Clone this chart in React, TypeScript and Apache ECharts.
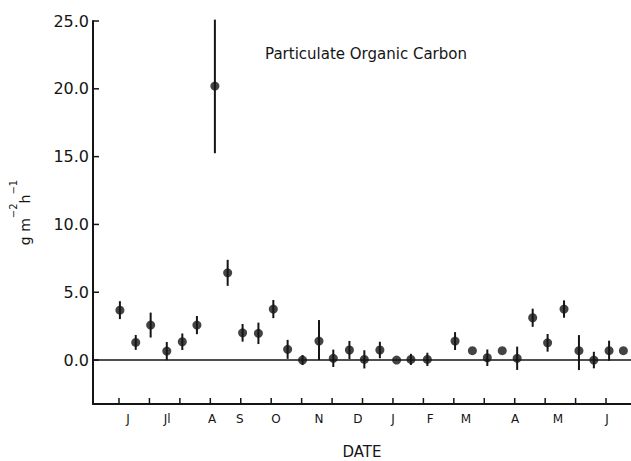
import React, { useEffect, useRef } from "react";
import * as echarts from "echarts";

// Sample positions (in tick units along the date axis)
const sampleX = [
  0.03, 0.55, 1.04, 1.57, 2.08, 2.56, 3.15, 3.57, 4.06, 4.58, 5.07, 5.54, 6.03, 6.57, 7.04, 7.57,
  8.06, 8.57, 9.12, 9.59, 10.13, 11.04, 11.61, 12.1, 12.59, 13.08, 13.59, 14.08, 14.62, 15.11,
  15.6, 16.1, 16.57,
];
// Particulate organic carbon flux (g m-2 h-1)
const pocValues = [
  3.68, 1.3, 2.58, 0.66, 1.35, 2.58, 20.2, 6.43, 2.01, 1.97, 3.76, 0.79, 0.0, 1.4, 0.13, 0.74,
  0.05, 0.74, 0.0, 0.05, 0.05, 1.4, 0.69, 0.17, 0.69, 0.13, 3.12, 1.27, 3.76, 0.69, 0.0, 0.69,
  0.69,
];
const errLow = [
  0.66, 0.55, 0.92, 0.67, 0.61, 0.67, 4.95, 0.96, 0.65, 0.79, 0.67, 0.7, 0.37, 1.4, 0.64, 0.67,
  0.67, 0.61, 0, 0.41, 0.49, 0.66, 0, 0.61, 0, 0.86, 0.67, 0.65, 0.64, 1.43, 0.61, 0.74, 0,
];
const errHigh = [
  0.66, 0.55, 0.92, 0.67, 0.61, 0.67, 4.9, 0.96, 0.65, 0.79, 0.67, 0.7, 0.37, 1.55, 0.64, 0.67,
  0.67, 0.61, 0, 0.41, 0.49, 0.66, 0, 0.61, 0, 0.86, 0.67, 0.65, 0.64, 1.15, 0.61, 0.74, 0,
];

const monthLabels = ["J", "Jl", "A", "S", "O", "N", "D", "J", "F", "M", "A", "M", "J"];
const monthPos = [0.3, 1.58, 3.06, 3.97, 5.16, 6.57, 7.85, 9.0, 10.22, 11.4, 13.01, 14.42, 16.03];
const xTicks = [0, 1, 2, 3, 4, 5, 6, 7, 8, 9, 10, 11, 12, 13, 14, 15, 16];
const yTicks = [0, 5, 10, 15, 20, 25];

const X_MIN = -0.854;
const X_MAX = 16.82;
const Y_MIN = -3.24;
const Y_MAX = 25;

const INK = "#151515";
const FONT = "DejaVu Sans";

export default function App() {
  const ref = useRef<HTMLDivElement>(null);

  useEffect(() => {
    if (!ref.current) return;
    document.body.style.margin = "0";
    const chart = echarts.init(ref.current, undefined, { renderer: "svg" });

    const pts = sampleX.map((x, i) => [x, pocValues[i]]);
    const bars = sampleX.map((x, i) => [x, pocValues[i], errLow[i], errHigh[i]]);
    const xTickData = xTicks.map((v) => [v, Y_MIN]);
    const yTickData = yTicks.map((v) => [X_MIN, v]);

    chart.setOption({
      animation: false,
      backgroundColor: "#ffffff",
      title: {
        text: "Particulate Organic Carbon",
        left: 361,
        top: 41,
        textAlign: "center",
        textStyle: { fontFamily: FONT, fontSize: 15, fontWeight: "normal", color: INK },
      },
      grid: { left: 93, right: 0, top: 21, bottom: 57, containLabel: false, outerBoundsMode: "none" },
      xAxis: {
        type: "value",
        min: X_MIN,
        max: X_MAX,
        name: "DATE",
        nameLocation: "middle",
        nameGap: 40,
        nameTextStyle: { fontFamily: FONT, fontSize: 15, color: INK },
        axisLine: { show: true, onZero: false, lineStyle: { color: INK, width: 2 } },
        axisTick: { show: false },
        axisLabel: {
          show: true,
          customValues: monthPos,
          margin: 9,
          fontFamily: FONT,
          fontSize: 12,
          color: INK,
          formatter: (v: number) => {
            let best = 0;
            let bd = Infinity;
            monthPos.forEach((p, i) => {
              const d = Math.abs(p - v);
              if (d < bd) {
                bd = d;
                best = i;
              }
            });
            return monthLabels[best];
          },
        },
        splitLine: { show: false },
      },
      yAxis: {
        type: "value",
        min: Y_MIN,
        max: Y_MAX,
        name: "{a|g m}{b|−2}{a|h}{b|−1}",
        nameLocation: "middle",
        nameRotate: 90,
        nameGap: 61,
        nameTextStyle: {
          color: INK,
          rich: {
            a: { fontFamily: FONT, fontSize: 14, lineHeight: 24, color: INK, verticalAlign: "bottom" },
            b: { fontFamily: FONT, fontSize: 10, lineHeight: 12, color: INK, verticalAlign: "top" },
          },
        },
        axisLine: { show: true, onZero: false, lineStyle: { color: INK, width: 2 } },
        axisTick: { show: false },
        axisLabel: {
          show: true,
          customValues: yTicks,
          margin: 4,
          fontFamily: FONT,
          fontSize: 16,
          color: INK,
          formatter: (v: number) => v.toFixed(1),
        },
        splitLine: { show: false },
      },
      series: [
        {
          type: "custom",
          name: "xticks",
          data: xTickData,
          encode: { x: 0, y: 1 },
          clip: false,
          silent: true,
          z: 5,
          renderItem: (params: any, api: any) => {
            const p = api.coord([api.value(0), api.value(1)]);
            return {
              type: "line",
              shape: { x1: p[0], y1: p[1], x2: p[0], y2: p[1] - 6 },
              style: { stroke: INK, lineWidth: 1.5 },
            };
          },
        },
        {
          type: "custom",
          name: "yticks",
          data: yTickData,
          encode: { x: 0, y: 1 },
          clip: false,
          silent: true,
          z: 5,
          renderItem: (params: any, api: any) => {
            const p = api.coord([api.value(0), api.value(1)]);
            return {
              type: "line",
              shape: { x1: p[0], y1: p[1], x2: p[0] + 6, y2: p[1] },
              style: { stroke: INK, lineWidth: 1.5 },
            };
          },
        },
        {
          type: "custom",
          name: "error",
          data: bars,
          encode: { x: 0, y: 1 },
          z: 2,
          renderItem: (params: any, api: any) => {
            const x = api.value(0);
            const y = api.value(1);
            const lo = api.value(2);
            const hi = api.value(3);
            if (!(lo > 0 || hi > 0)) return null;
            const p1 = api.coord([x, y - lo]);
            const p2 = api.coord([x, y + hi]);
            return {
              type: "line",
              shape: { x1: p1[0], y1: p1[1], x2: p2[0], y2: p2[1] },
              style: { stroke: INK, lineWidth: 2 },
            };
          },
        },
        {
          type: "scatter",
          name: "POC",
          data: pts,
          symbol: "circle",
          symbolSize: 9,
          itemStyle: { color: INK },
          z: 3,
          markLine: {
            silent: true,
            symbol: ["none", "none"],
            label: { show: false },
            lineStyle: { color: INK, width: 1.5, type: "solid" },
            data: [{ yAxis: 0 }],
          },
        },
      ],
    });

    return () => chart.dispose();
  }, []);

  return <div ref={ref} style={{ width: 631, height: 461 }} />;
}
